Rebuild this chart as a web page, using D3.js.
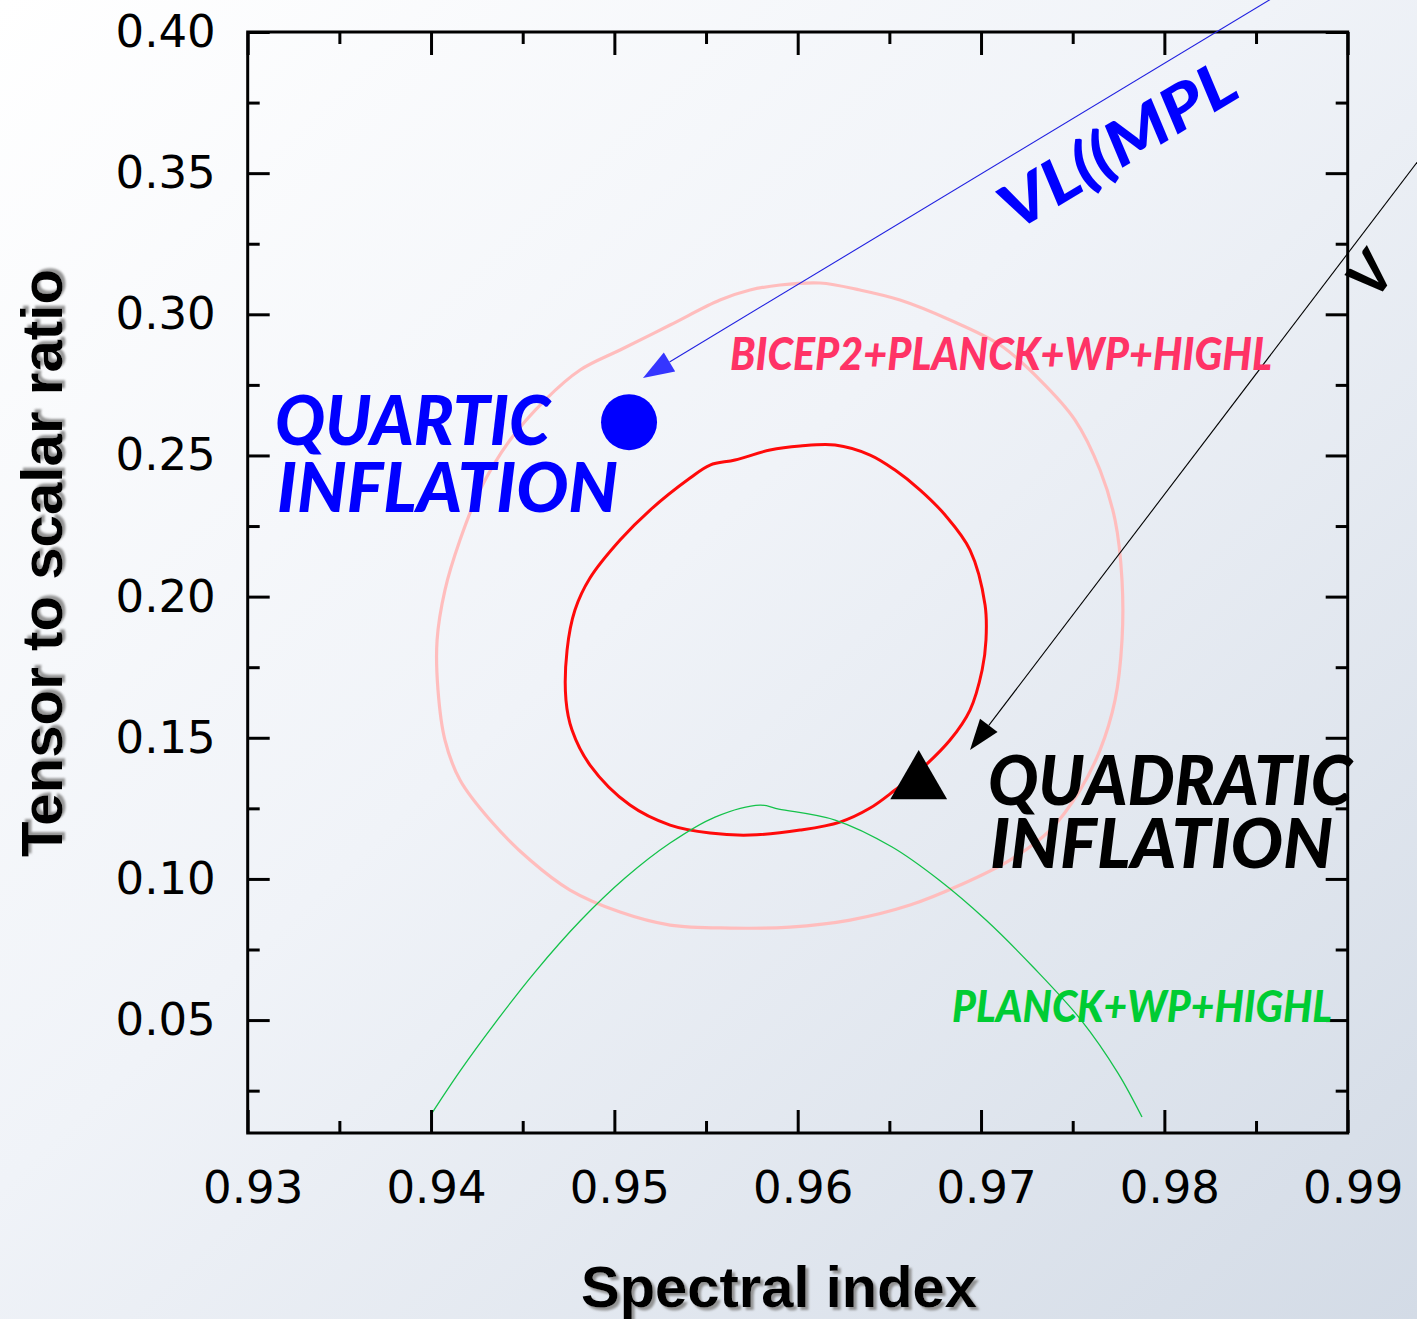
<!DOCTYPE html>
<html>
<head>
<meta charset="utf-8">
<script src="https://cdn.jsdelivr.net/npm/d3@7"></script>
<style>
  html, body { margin: 0; padding: 0; overflow: hidden; background: #fff; }
  svg { display: block; }
</style>
</head>
<body>
<script>
// ---- data: spectral index n_s vs tensor-to-scalar ratio r ----

// BICEP2+Planck+WP+highL, inner (68%) contour
const bicepInner = [
  [0.96013, 0.25334], [0.96204, 0.25370], [0.96395, 0.25015], [0.96531, 0.24484],
  [0.96668, 0.23775], [0.96804, 0.22890], [0.96940, 0.21650], [0.97022, 0.19701],
  [0.97027, 0.18462], [0.97006, 0.17399], [0.96940, 0.15982], [0.96831, 0.14919],
  [0.96668, 0.13856], [0.96531, 0.13148], [0.96395, 0.12510], [0.96231, 0.12014],
  [0.96013, 0.11731], [0.95740, 0.11554], [0.95522, 0.11625], [0.95304, 0.11908],
  [0.95085, 0.12616], [0.94867, 0.14033], [0.94769, 0.15273], [0.94736, 0.16336],
  [0.94742, 0.18107], [0.94785, 0.19524], [0.94867, 0.20658], [0.95031, 0.22004],
  [0.95195, 0.23067], [0.95413, 0.24200], [0.95522, 0.24661], [0.95658, 0.24838],
  [0.95849, 0.25192]
];

// BICEP2+Planck+WP+highL, outer (95%) contour
const bicepOuter = [
  [0.95904, 0.31037], [0.96122, 0.31108], [0.96340, 0.30860], [0.96558, 0.30506],
  [0.96831, 0.29798], [0.97104, 0.28912], [0.97322, 0.27672], [0.97513, 0.26255],
  [0.97649, 0.24484], [0.97731, 0.22713], [0.97769, 0.20587], [0.97769, 0.18462],
  [0.97731, 0.16336], [0.97649, 0.14565], [0.97540, 0.13148], [0.97377, 0.11731],
  [0.97158, 0.10668], [0.96886, 0.09783], [0.96613, 0.09074], [0.96286, 0.08542],
  [0.95958, 0.08295], [0.95631, 0.08259], [0.95304, 0.08365], [0.95031, 0.08826],
  [0.94758, 0.09605], [0.94540, 0.10668], [0.94322, 0.12085], [0.94158, 0.13502],
  [0.94076, 0.14919], [0.94038, 0.16690], [0.94033, 0.18462], [0.94076, 0.20233],
  [0.94158, 0.22004], [0.94267, 0.23775], [0.94431, 0.25547], [0.94622, 0.26964],
  [0.94813, 0.28026], [0.95031, 0.28735], [0.95304, 0.29620], [0.95576, 0.30506],
  [0.95740, 0.30860]
];

// Planck+WP+highL upper boundary (open curve)
const planckCurve = [
  [0.94005, 0.01706], [0.94158, 0.03194], [0.94349, 0.04894], [0.94567, 0.06700],
  [0.94813, 0.08507], [0.95058, 0.10030], [0.95304, 0.11270], [0.95549, 0.12191],
  [0.95795, 0.12616], [0.95897, 0.12475], [0.96204, 0.12085], [0.96515, 0.11129],
  [0.96771, 0.09960], [0.97027, 0.08542], [0.97284, 0.06878], [0.97546, 0.05000],
  [0.97747, 0.03122], [0.97878, 0.01564]
];

// model predictions
const quarticPoint = [0.9508, 0.2618];
const quadraticPoint = [0.9666, 0.1340];

// axis ticks
const xMajorTicks = [0.93, 0.94, 0.95, 0.96, 0.97, 0.98, 0.99];
const xMinorTicks = [0.935, 0.945, 0.955, 0.965, 0.975, 0.985];
const yMajorTicks = [0.05, 0.10, 0.15, 0.20, 0.25, 0.30, 0.35, 0.40];
const yMinorTicks = [0.025, 0.075, 0.125, 0.175, 0.225, 0.275, 0.325, 0.375];

// potential labels with their pointer arrows: [from, to] in (n_s, r)
const quarticArrow = [[0.9874, 0.4179], [0.95156, 0.27743]];
const quadraticArrow = [[0.99504, 0.36458], [0.96940, 0.14565]];

// ---- layout ----
const W = 1417, H = 1319;
const x = d3.scaleLinear().domain([0.93, 0.99]).range([247.7, 1347.7]);
const y = d3.scaleLinear().domain([0.01, 0.40]).range([1133, 32]);

const svg = d3.select("body").append("svg")
  .attr("width", W).attr("height", H);

const defs = svg.append("defs");
const bg = defs.append("linearGradient").attr("id", "bg")
  .attr("x1", 0).attr("y1", 0).attr("x2", 1).attr("y2", 1);
bg.append("stop").attr("offset", 0).attr("stop-color", "#ffffff");
bg.append("stop").attr("offset", 0.45).attr("stop-color", "#f0f3f8");
bg.append("stop").attr("offset", 1).attr("stop-color", "#d3dbe6");

const shadow = defs.append("filter").attr("id", "shadow")
  .attr("x", "-10%").attr("y", "-10%").attr("width", "130%").attr("height", "130%");
shadow.append("feDropShadow").attr("dx", 3).attr("dy", 3).attr("stdDeviation", 0.8)
  .attr("flood-color", "#8a8a8a").attr("flood-opacity", 0.9);

svg.append("rect").attr("width", W).attr("height", H).attr("fill", "url(#bg)");

// ---- contours ----
const line = d3.line().x(d => x(d[0])).y(d => y(d[1]));

svg.append("path").datum(bicepOuter)
  .attr("d", line.curve(d3.curveCatmullRomClosed.alpha(0.5)))
  .attr("fill", "none").attr("stroke", "#ffbdbd").attr("stroke-width", 3.2);

svg.append("path").datum(bicepInner)
  .attr("d", line.curve(d3.curveCatmullRomClosed.alpha(0.5)))
  .attr("fill", "none").attr("stroke", "#ff0a0a").attr("stroke-width", 3);

svg.append("path").datum(planckCurve)
  .attr("d", line.curve(d3.curveCatmullRom.alpha(0.5)))
  .attr("fill", "none").attr("stroke", "#14c24a").attr("stroke-width", 1.3);

// ---- frame and ticks (all pointing inward) ----
const axisStyle = g => {
  g.select(".domain").remove();
  g.selectAll(".tick line").attr("stroke", "#000").attr("stroke-width", 3);
  g.selectAll("text").attr("font-family", "'DejaVu Sans', sans-serif")
    .attr("font-size", 45).attr("fill", "#000");
};
const fmt = d3.format(".2f");

svg.append("g").attr("transform", `translate(0,${y(0.01)})`)
  .call(d3.axisBottom(x).tickValues(xMajorTicks).tickSize(-23).tickPadding(38).tickFormat(fmt))
  .call(axisStyle)
  .call(g => g.selectAll("text").attr("dx", 5));
svg.append("g").attr("transform", `translate(0,${y(0.01)})`)
  .call(d3.axisBottom(x).tickValues(xMinorTicks).tickSize(-12).tickFormat(""))
  .call(axisStyle);
svg.append("g").attr("transform", `translate(0,${y(0.40)})`)
  .call(d3.axisTop(x).tickValues(xMajorTicks).tickSize(-23).tickFormat(""))
  .call(axisStyle);
svg.append("g").attr("transform", `translate(0,${y(0.40)})`)
  .call(d3.axisTop(x).tickValues(xMinorTicks).tickSize(-12).tickFormat(""))
  .call(axisStyle);

svg.append("g").attr("transform", `translate(${x(0.93)},0)`)
  .call(d3.axisLeft(y).tickValues(yMajorTicks).tickSize(-22).tickPadding(32).tickFormat(fmt))
  .call(axisStyle);
svg.append("g").attr("transform", `translate(${x(0.93)},0)`)
  .call(d3.axisLeft(y).tickValues(yMinorTicks).tickSize(-12).tickFormat(""))
  .call(axisStyle);
svg.append("g").attr("transform", `translate(${x(0.99)},0)`)
  .call(d3.axisRight(y).tickValues(yMajorTicks).tickSize(-22).tickFormat(""))
  .call(axisStyle);
svg.append("g").attr("transform", `translate(${x(0.99)},0)`)
  .call(d3.axisRight(y).tickValues(yMinorTicks).tickSize(-12).tickFormat(""))
  .call(axisStyle);

svg.append("rect")
  .attr("x", x(0.93)).attr("y", y(0.40))
  .attr("width", x(0.99) - x(0.93)).attr("height", y(0.01) - y(0.40))
  .attr("fill", "none").attr("stroke", "#000").attr("stroke-width", 3);

// ---- axis titles ----
svg.append("text")
  .attr("x", 779).attr("y", 1307)
  .attr("text-anchor", "middle")
  .attr("font-family", "'Liberation Sans', Arial, sans-serif")
  .attr("font-weight", "bold").attr("font-size", 57)
  .attr("textLength", 396).attr("lengthAdjust", "spacingAndGlyphs")
  .attr("filter", "url(#shadow)")
  .text("Spectral index");

svg.append("text")
  .attr("transform", "translate(62,563) rotate(-90)")
  .attr("text-anchor", "middle")
  .attr("font-family", "'Liberation Sans', Arial, sans-serif")
  .attr("font-weight", "bold").attr("font-size", 57)
  .attr("textLength", 588).attr("lengthAdjust", "spacingAndGlyphs")
  .attr("filter", "url(#shadow)")
  .text("Tensor to scalar ratio");

// ---- pointer arrows ----
function arrow(pts, color, width, headColor) {
  const [p0, p1] = pts;
  const x0 = x(p0[0]), y0 = y(p0[1]), x1 = x(p1[0]), y1 = y(p1[1]);
  const len = Math.hypot(x1 - x0, y1 - y0);
  const ux = (x1 - x0) / len, uy = (y1 - y0) / len;
  const hl = 31, hw = 11;
  const bx = x1 - ux * hl, by = y1 - uy * hl;
  svg.append("line").attr("x1", x0).attr("y1", y0).attr("x2", bx).attr("y2", by)
    .attr("stroke", color).attr("stroke-width", width);
  svg.append("path")
    .attr("d", `M${x1},${y1}L${bx - uy * hw},${by + ux * hw}L${bx + uy * hw},${by - ux * hw}Z`)
    .attr("fill", headColor);
}
arrow(quarticArrow, "#2020e0", 1.1, "#3535ff");
arrow(quadraticArrow, "#000", 1.1, "#000");

// ---- model points ----
svg.append("circle")
  .attr("cx", x(quarticPoint[0])).attr("cy", y(quarticPoint[1]))
  .attr("r", 28).attr("fill", "#0000ff");

svg.append("path")
  .attr("transform", `translate(${x(quadraticPoint[0])},${y(quadraticPoint[1])})`)
  .attr("d", d3.symbol().type(d3.symbolTriangle).size(1400)())
  .attr("fill", "#000");

// ---- hand-lettered annotations ----
const hand = "'Lato', 'Liberation Sans', sans-serif";
function label(pos, str, color, size, len, rot) {
  const t = svg.append("text")
    .attr("transform", `translate(${x(pos[0])},${y(pos[1])}) rotate(${rot || 0})`)
    .attr("font-family", hand).attr("font-weight", 900).attr("font-style", "italic")
    .attr("font-size", size).attr("fill", color)
    .text(str);
  if (len) t.attr("textLength", len).attr("lengthAdjust", "spacingAndGlyphs");
  return t;
}
label([0.93149, 0.2537], "QUARTIC", "#0000ff", 68, 275);
label([0.93160, 0.22996], "INFLATION", "#0000ff", 68, 341);
label([0.97038, 0.12616], "QUADRATIC", "#000", 68, 364);
label([0.97049, 0.10385], "INFLATION", "#000", 68, 343);
label([0.95631, 0.28026], "BICEP2+PLANCK+WP+HIGHL", "#ff3366", 45, 542);
label([0.96842, 0.04929], "PLANCK+WP+HIGHL", "#00cc33", 44, 380);
label([0.97187, 0.32915], "VL((MPL", "#0000ff", 62, 265, -31);
label([0.99150, 0.30450], "V", "#000", 56, null, -53);
</script>
</body>
</html>
